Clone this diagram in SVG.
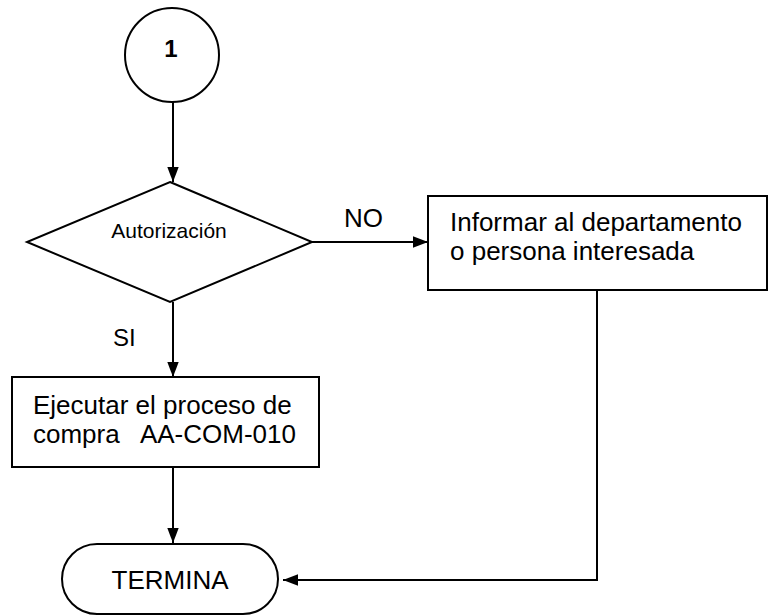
<svg xmlns="http://www.w3.org/2000/svg" width="769" height="616" viewBox="0 0 769 616">
<style>
.s{fill:#fff;stroke:#000;stroke-width:2}
.l{fill:none;stroke:#000;stroke-width:2}
.t{font-family:"Liberation Sans",Arial,sans-serif;fill:#000;font-size:26px}
.sm{font-size:21px}
.b{font-weight:bold}
</style>
<defs>
<marker id="ah" viewBox="0 0 10 10" refX="10" refY="5" markerWidth="15" markerHeight="15" markerUnits="userSpaceOnUse" orient="auto"><path d="M0,1.2L10,5L0,8.8z" fill="#000"/></marker>
</defs>
<rect width="769" height="616" fill="#fff"/>
<g id="connectors">
<line class="l" x1="173" y1="102" x2="173" y2="182" marker-end="url(#ah)"/>
<line class="l" x1="312" y1="242" x2="428" y2="242" marker-end="url(#ah)"/>
<line class="l" x1="173" y1="302" x2="173" y2="377" marker-end="url(#ah)"/>
<line class="l" x1="173" y1="467" x2="173" y2="543" marker-end="url(#ah)"/>
<polyline class="l" points="597,290 597,580 283,580" marker-end="url(#ah)"/>
<text class="t" x="344" y="227">NO</text>
<text class="t" x="113" y="346" style="font-size:24px">SI</text>
</g>
<g id="n1">
<circle class="s" cx="172" cy="55" r="47"/>
<text class="t b" x="171" y="57" text-anchor="middle" style="font-size:24px">1</text>
</g>
<g id="decision">
<polygon class="s" points="170,182 312,242 170,302 27,242"/>
<text class="t sm" x="169" y="238" text-anchor="middle">Autorización</text>
</g>
<g id="informar">
<rect class="s" x="428" y="196" width="339" height="94"/>
<text class="t" x="450" y="231">Informar al departamento</text>
<text class="t" x="450" y="260">o persona interesada</text>
</g>
<g id="ejecutar">
<rect class="s" x="12" y="377" width="307" height="90"/>
<text class="t" x="33" y="414" xml:space="preserve">Ejecutar el proceso de</text>
<text class="t" x="33" y="443" xml:space="preserve">compra   AA-COM-010</text>
</g>
<g id="termina">
<rect class="s" x="62" y="544" width="216" height="70" rx="35" ry="35"/>
<text class="t" x="170" y="589" text-anchor="middle">TERMINA</text>
</g>
</svg>
